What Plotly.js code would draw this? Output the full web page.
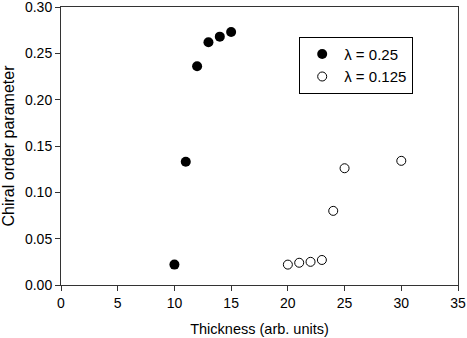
<!DOCTYPE html>
<html>
<head>
<meta charset="utf-8">
<script src="https://cdn.plot.ly/plotly-3.0.1.min.js"></script>
<style>
  html, body { margin: 0; padding: 0; background: #fff; }
  #chart { width: 467px; height: 338px; }
</style>
</head>
<body>
<div id="chart"></div>
<script>
// Thickness values and chiral order parameter for each lambda
const thickA = [10, 11, 12, 13, 14, 15];
const chiralA = [0.022, 0.133, 0.236, 0.262, 0.268, 0.273];
const thickB = [20, 21, 22, 23, 24, 25, 30];
const chiralB = [0.022, 0.024, 0.025, 0.027, 0.080, 0.126, 0.134];
const namesLegend = ['\u03bb = 0.25', '\u03bb = 0.125'];

const filled = {
    x: thickA,
    y: chiralA,
    type: 'scatter',
    mode: 'markers',
    name: namesLegend[0],
    marker: { symbol: 'circle', size: 10, color: '#000' }
};

const hollow = {
    x: thickB,
    y: chiralB,
    type: 'scatter',
    mode: 'markers',
    name: namesLegend[1],
    marker: { symbol: 'circle-open', size: 9, color: '#000', line: { width: 1 } }
};

const fontFam = 'Liberation Sans, Arial, sans-serif';

const layout = {
    width: 467,
    height: 338,
    margin: { l: 61, r: 9, t: 7, b: 53 },
    paper_bgcolor: '#fff',
    plot_bgcolor: '#fff',
    font: { family: fontFam, size: 14, color: '#000' },
    showlegend: true,
    legend: {
        x: 0.6,
        y: 0.893,
        xanchor: 'left',
        yanchor: 'top',
        bordercolor: '#000',
        borderwidth: 1,
        bgcolor: '#fff',
        itemwidth: 34,
        entrywidth: 122,
        tracegroupgap: 0,
        font: { family: fontFam, size: 15, color: '#000' }
    },
    xaxis: {
        range: [0, 35],
        tickvals: [0, 5, 10, 15, 20, 25, 30, 35],
        ticks: 'outside',
        ticklen: 5,
        tickcolor: '#333',
        ticklabeloverflow: 'allow',
        showgrid: false,
        zeroline: false,
        showline: true,
        linecolor: '#333',
        mirror: true,
        title: { text: 'Thickness (arb. units)', font: { size: 14.5 }, standoff: 14 }
    },
    yaxis: {
        range: [0, 0.30],
        tickvals: [0, 0.05, 0.10, 0.15, 0.20, 0.25, 0.30],
        tickformat: '.2f',
        ticks: 'outside',
        ticklen: 5,
        tickcolor: '#333',
        ticklabeloverflow: 'allow',
        showgrid: false,
        zeroline: false,
        showline: true,
        linecolor: '#333',
        mirror: true,
        title: { text: 'Chiral order parameter', font: { size: 16 }, standoff: 8 }
    }
};

Plotly.newPlot('chart', [filled, hollow], layout, { displayModeBar: false, staticPlot: true });
</script>
</body>
</html>
